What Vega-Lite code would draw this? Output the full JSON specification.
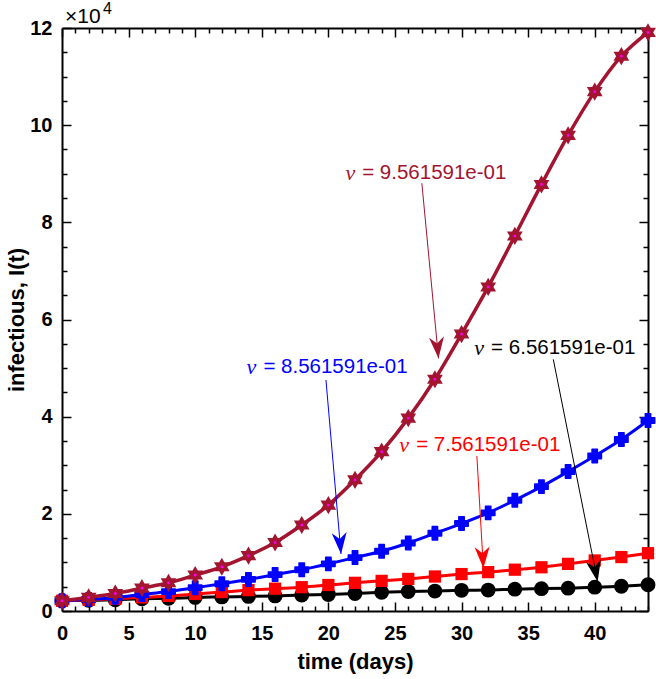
{
  "$schema": "https://vega.github.io/schema/vega-lite/v6.json",
  "width": 586,
  "height": 583,
  "autosize": "none",
  "padding": {"left": 62, "top": 28, "right": 8, "bottom": 68},
  "config": {
    "view": {"stroke": null},
    "axis": {
      "grid": false,
      "domainColor": "#000000",
      "domainWidth": 2,
      "tickColor": "#000000",
      "tickWidth": 1.5,
      "labelFont": "Liberation Sans",
      "labelFontWeight": "bold",
      "labelFontSize": 20,
      "labelColor": "#000000",
      "titleFont": "Liberation Sans",
      "titleFontWeight": "bold",
      "titleFontSize": 22,
      "titleColor": "#000000",
      "labelOverlap": false,
      "labelFlush": false,
      "labelBound": false
    }
  },
  "datasets": {
    "series": [
      {"s": "6.561591e-01", "t": 0, "I": 2100}, {"s": "6.561591e-01", "t": 2, "I": 2200}, {"s": "6.561591e-01", "t": 4, "I": 2300}, {"s": "6.561591e-01", "t": 6, "I": 2500}, {"s": "6.561591e-01", "t": 8, "I": 2600}, {"s": "6.561591e-01", "t": 10, "I": 2800}, {"s": "6.561591e-01", "t": 12, "I": 2900}, {"s": "6.561591e-01", "t": 14, "I": 3000}, {"s": "6.561591e-01", "t": 16, "I": 3100}, {"s": "6.561591e-01", "t": 18, "I": 3300}, {"s": "6.561591e-01", "t": 20, "I": 3400}, {"s": "6.561591e-01", "t": 22, "I": 3600}, {"s": "6.561591e-01", "t": 24, "I": 3850}, {"s": "6.561591e-01", "t": 26, "I": 4000}, {"s": "6.561591e-01", "t": 28, "I": 4100}, {"s": "6.561591e-01", "t": 30, "I": 4250}, {"s": "6.561591e-01", "t": 32, "I": 4300}, {"s": "6.561591e-01", "t": 34, "I": 4500}, {"s": "6.561591e-01", "t": 36, "I": 4600}, {"s": "6.561591e-01", "t": 38, "I": 4700}, {"s": "6.561591e-01", "t": 40, "I": 4900}, {"s": "6.561591e-01", "t": 42, "I": 5100}, {"s": "6.561591e-01", "t": 44, "I": 5400},
      {"s": "7.561591e-01", "t": 0, "I": 2100}, {"s": "7.561591e-01", "t": 2, "I": 2300}, {"s": "7.561591e-01", "t": 4, "I": 2500}, {"s": "7.561591e-01", "t": 6, "I": 2800}, {"s": "7.561591e-01", "t": 8, "I": 3100}, {"s": "7.561591e-01", "t": 10, "I": 3500}, {"s": "7.561591e-01", "t": 12, "I": 3900}, {"s": "7.561591e-01", "t": 14, "I": 4300}, {"s": "7.561591e-01", "t": 16, "I": 4600}, {"s": "7.561591e-01", "t": 18, "I": 4900}, {"s": "7.561591e-01", "t": 20, "I": 5350}, {"s": "7.561591e-01", "t": 22, "I": 5800}, {"s": "7.561591e-01", "t": 24, "I": 6200}, {"s": "7.561591e-01", "t": 26, "I": 6600}, {"s": "7.561591e-01", "t": 28, "I": 7100}, {"s": "7.561591e-01", "t": 30, "I": 7600}, {"s": "7.561591e-01", "t": 32, "I": 8000}, {"s": "7.561591e-01", "t": 34, "I": 8500}, {"s": "7.561591e-01", "t": 36, "I": 9000}, {"s": "7.561591e-01", "t": 38, "I": 9700}, {"s": "7.561591e-01", "t": 40, "I": 10400}, {"s": "7.561591e-01", "t": 42, "I": 11100}, {"s": "7.561591e-01", "t": 44, "I": 11900},
      {"s": "8.561591e-01", "t": 0, "I": 2100}, {"s": "8.561591e-01", "t": 2, "I": 2400}, {"s": "8.561591e-01", "t": 4, "I": 2800}, {"s": "8.561591e-01", "t": 6, "I": 3400}, {"s": "8.561591e-01", "t": 8, "I": 4000}, {"s": "8.561591e-01", "t": 10, "I": 4800}, {"s": "8.561591e-01", "t": 12, "I": 5600}, {"s": "8.561591e-01", "t": 14, "I": 6500}, {"s": "8.561591e-01", "t": 16, "I": 7500}, {"s": "8.561591e-01", "t": 18, "I": 8500}, {"s": "8.561591e-01", "t": 20, "I": 9700}, {"s": "8.561591e-01", "t": 22, "I": 11000}, {"s": "8.561591e-01", "t": 24, "I": 12300}, {"s": "8.561591e-01", "t": 26, "I": 14000}, {"s": "8.561591e-01", "t": 28, "I": 16000}, {"s": "8.561591e-01", "t": 30, "I": 18000}, {"s": "8.561591e-01", "t": 32, "I": 20200}, {"s": "8.561591e-01", "t": 34, "I": 22800}, {"s": "8.561591e-01", "t": 36, "I": 25600}, {"s": "8.561591e-01", "t": 38, "I": 28700}, {"s": "8.561591e-01", "t": 40, "I": 31900}, {"s": "8.561591e-01", "t": 42, "I": 35300}, {"s": "8.561591e-01", "t": 44, "I": 39200},
      {"s": "9.561591e-01", "t": 0, "I": 2100}, {"s": "9.561591e-01", "t": 2, "I": 2800}, {"s": "9.561591e-01", "t": 4, "I": 3600}, {"s": "9.561591e-01", "t": 6, "I": 4700}, {"s": "9.561591e-01", "t": 8, "I": 5800}, {"s": "9.561591e-01", "t": 10, "I": 7400}, {"s": "9.561591e-01", "t": 12, "I": 9100}, {"s": "9.561591e-01", "t": 14, "I": 11400}, {"s": "9.561591e-01", "t": 16, "I": 14100}, {"s": "9.561591e-01", "t": 18, "I": 17700}, {"s": "9.561591e-01", "t": 20, "I": 21800}, {"s": "9.561591e-01", "t": 22, "I": 27000}, {"s": "9.561591e-01", "t": 24, "I": 32800}, {"s": "9.561591e-01", "t": 26, "I": 39700}, {"s": "9.561591e-01", "t": 28, "I": 47700}, {"s": "9.561591e-01", "t": 30, "I": 57000}, {"s": "9.561591e-01", "t": 32, "I": 66700}, {"s": "9.561591e-01", "t": 34, "I": 77200}, {"s": "9.561591e-01", "t": 36, "I": 87800}, {"s": "9.561591e-01", "t": 38, "I": 97900}, {"s": "9.561591e-01", "t": 40, "I": 106900}, {"s": "9.561591e-01", "t": 42, "I": 114200}, {"s": "9.561591e-01", "t": 44, "I": 119100}
    ],
    "notes": [
      {"s": "6.561591e-01", "label": "= 6.561591e-01", "t": 31.77, "I": 54100},
      {"s": "7.561591e-01", "label": "= 7.561591e-01", "t": 26.14, "I": 34200},
      {"s": "8.561591e-01", "label": "= 8.561591e-01", "t": 14.67, "I": 50200},
      {"s": "9.561591e-01", "label": "= 9.561591e-01", "t": 22.09, "I": 90100}
    ],
    "arrows": [
      {"s": "6.561591e-01", "t": 36.89, "I": 51800, "t2": 40.22, "I2": 6030},
      {"s": "7.561591e-01", "t": 31.15, "I": 31900, "t2": 31.64, "I2": 8790},
      {"s": "8.561591e-01", "t": 19.82, "I": 47550, "t2": 20.95, "I2": 11730},
      {"s": "9.561591e-01", "t": 27.02, "I": 88040, "t2": 28.27, "I2": 52000}
    ]
  },
  "layer": [
    {
      "data": {"name": "series"},
      "encoding": {
        "x": {
          "field": "t", "type": "quantitative",
          "scale": {"domain": [0, 44], "nice": false, "zero": false},
          "axis": {
            "orient": "bottom",
            "title": "time (days)",
            "values": [0,1,2,3,4,5,6,7,8,9,10,11,12,13,14,15,16,17,18,19,20,21,22,23,24,25,26,27,28,29,30,31,32,33,34,35,36,37,38,39,40,41,42,43,44],
            "tickSize": {"condition": {"test": "datum.value % 5 === 0", "value": -9}, "value": -5},
            "labelExpr": "datum.value % 5 === 0 ? datum.label : ''",
            "labelPadding": 21,
            "titlePadding": 4
          }
        },
        "y": {
          "field": "I", "type": "quantitative",
          "scale": {"domain": [0, 120000], "nice": false},
          "axis": {
            "orient": "left",
            "title": "infectious, I(t)",
            "values": [0,5000,10000,15000,20000,25000,30000,35000,40000,45000,50000,55000,60000,65000,70000,75000,80000,85000,90000,95000,100000,105000,110000,115000,120000],
            "tickSize": {"condition": {"test": "datum.value % 20000 === 0", "value": -9}, "value": -5},
            "labelExpr": "datum.value % 20000 === 0 ? format(datum.value / 10000, 'd') : ''",
            "labelPadding": 19,
            "titlePadding": 1
          }
        }
      },
      "layer": [
        {
          "transform": [{"filter": "datum.s === '6.561591e-01'"}],
          "mark": {"type": "line", "color": "#000000", "strokeWidth": 3, "interpolate": "monotone",
                   "point": {"filled": true, "shape": "circle", "size": 220, "color": "#000000", "opacity": 1}}
        },
        {
          "transform": [{"filter": "datum.s === '7.561591e-01'"}],
          "mark": {"type": "line", "color": "#FF0000", "strokeWidth": 3, "interpolate": "monotone",
                   "point": {"filled": true, "shape": "square", "size": 150, "color": "#FF0000", "opacity": 1}}
        },
        {
          "transform": [{"filter": "datum.s === '8.561591e-01'"}],
          "mark": {"type": "line", "color": "#0000FF", "strokeWidth": 3, "interpolate": "monotone",
                   "point": {"filled": true, "shape": "cross", "size": 180, "color": "#0000FF", "opacity": 1, "stroke": "#0000FF", "strokeWidth": 1.5, "strokeJoin": "round"}}
        },
        {
          "transform": [{"filter": "datum.s === '9.561591e-01'"}],
          "mark": {"type": "line", "color": "#A2142F", "strokeWidth": 3.5, "interpolate": "monotone",
                   "point": {"filled": true, "shape": "M0,-1L0.866,0.5L-0.866,0.5Z M0,1L-0.866,-0.5L0.866,-0.5Z", "size": 330, "color": "#A2142F", "opacity": 1}}
        },
        {
          "transform": [{"filter": "datum.s === '9.561591e-01'"}],
          "mark": {"type": "point", "filled": true, "shape": "square", "size": 6, "color": "#FF00FF", "opacity": 1}
        },
        {
          "data": {"name": "arrows"},
          "mark": {"type": "rule", "strokeWidth": 1},
          "encoding": {
            "x": {"field": "t", "type": "quantitative"},
            "y": {"field": "I", "type": "quantitative"},
            "x2": {"field": "t2"},
            "y2": {"field": "I2"},
            "color": {"field": "s", "type": "nominal", "legend": null,
                      "scale": {"domain": ["6.561591e-01", "7.561591e-01", "8.561591e-01", "9.561591e-01"], "range": ["#000000", "#FF0000", "#0000FF", "#A2142F"]}}
          }
        },
        {
          "data": {"name": "arrows"},
          "transform": [{"filter": "datum.s === '6.561591e-01'"}],
          "mark": {"type": "point", "filled": true, "opacity": 1, "shape": "M0,0L-0.7,-2L0,-1.4L0.7,-2Z", "size": 460, "angle": 348.7, "color": "#000000"},
          "encoding": {"x": {"field": "t2", "type": "quantitative"}, "y": {"field": "I2", "type": "quantitative"}}
        },
        {
          "data": {"name": "arrows"},
          "transform": [{"filter": "datum.s === '7.561591e-01'"}],
          "mark": {"type": "point", "filled": true, "opacity": 1, "shape": "M0,0L-0.7,-2L0,-1.4L0.7,-2Z", "size": 460, "angle": 356.6, "color": "#FF0000"},
          "encoding": {"x": {"field": "t2", "type": "quantitative"}, "y": {"field": "I2", "type": "quantitative"}}
        },
        {
          "data": {"name": "arrows"},
          "transform": [{"filter": "datum.s === '8.561591e-01'"}],
          "mark": {"type": "point", "filled": true, "opacity": 1, "shape": "M0,0L-0.7,-2L0,-1.4L0.7,-2Z", "size": 460, "angle": 355.1, "color": "#0000FF"},
          "encoding": {"x": {"field": "t2", "type": "quantitative"}, "y": {"field": "I2", "type": "quantitative"}}
        },
        {
          "data": {"name": "arrows"},
          "transform": [{"filter": "datum.s === '9.561591e-01'"}],
          "mark": {"type": "point", "filled": true, "opacity": 1, "shape": "M0,0L-0.7,-2L0,-1.4L0.7,-2Z", "size": 460, "angle": 354.6, "color": "#A2142F"},
          "encoding": {"x": {"field": "t2", "type": "quantitative"}, "y": {"field": "I2", "type": "quantitative"}}
        },
        {
          "data": {"name": "notes"},
          "mark": {"type": "text", "text": "ν", "font": "Liberation Serif", "fontStyle": "italic", "fontSize": 22, "align": "right", "baseline": "middle", "dx": -1},
          "encoding": {
            "x": {"field": "t", "type": "quantitative"},
            "y": {"field": "I", "type": "quantitative"},
            "color": {"field": "s", "type": "nominal", "legend": null}
          }
        },
        {
          "data": {"name": "notes"},
          "mark": {"type": "text", "font": "Liberation Sans", "fontSize": 20.5, "align": "left", "baseline": "middle", "dx": 6},
          "encoding": {
            "x": {"field": "t", "type": "quantitative"},
            "y": {"field": "I", "type": "quantitative"},
            "text": {"field": "label"},
            "color": {"field": "s", "type": "nominal", "legend": null}
          }
        },
        {
          "data": {"values": [{"t": 0, "I": 120000}]},
          "mark": {"type": "text", "text": "4", "font": "Liberation Sans", "fontSize": 16, "align": "left", "baseline": "alphabetic", "dx": 41, "dy": -14, "color": "#000000"},
          "encoding": {"x": {"field": "t", "type": "quantitative"}, "y": {"field": "I", "type": "quantitative"}}
        }
      ]
    },
    {
      "data": {"values": [{"t": 0, "I": 120000}]},
      "mark": {"type": "text", "text": "×10", "font": "Liberation Sans", "fontSize": 21, "align": "left", "baseline": "alphabetic", "dx": 3, "dy": -5, "color": "#000000"},
      "encoding": {
        "x": {
          "field": "t", "type": "quantitative",
          "scale": {"domain": [0, 44], "nice": false, "zero": false},
          "axis": {
            "orient": "top", "title": null, "labels": false,
            "values": [0,1,2,3,4,5,6,7,8,9,10,11,12,13,14,15,16,17,18,19,20,21,22,23,24,25,26,27,28,29,30,31,32,33,34,35,36,37,38,39,40,41,42,43,44],
            "tickSize": {"condition": {"test": "datum.value % 5 === 0", "value": -9}, "value": -5}
          }
        },
        "y": {
          "field": "I", "type": "quantitative",
          "scale": {"domain": [0, 120000], "nice": false},
          "axis": {
            "orient": "right", "title": null, "labels": false,
            "values": [0,5000,10000,15000,20000,25000,30000,35000,40000,45000,50000,55000,60000,65000,70000,75000,80000,85000,90000,95000,100000,105000,110000,115000,120000],
            "tickSize": {"condition": {"test": "datum.value % 20000 === 0", "value": -9}, "value": -5}
          }
        }
      }
    }
  ],
  "resolve": {"axis": {"x": "independent", "y": "independent"}}
}
